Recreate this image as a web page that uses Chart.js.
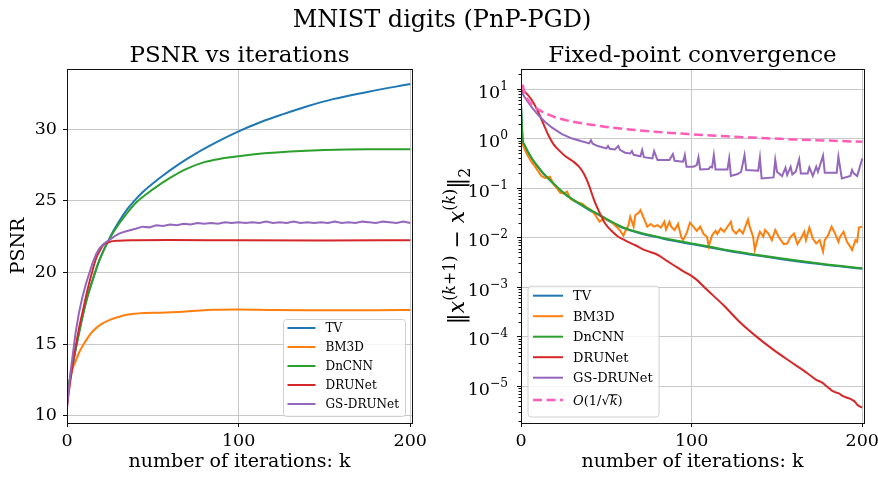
<!DOCTYPE html>
<html>
<head>
<meta charset="utf-8">
<title>MNIST digits (PnP-PGD)</title>
<script src="https://cdn.jsdelivr.net/npm/chart.js@4.4.0/dist/chart.umd.min.js"></script>
<style>
  html, body { margin: 0; padding: 0; background: #fff; }
  #page { position: relative; width: 878px; height: 482px; overflow: hidden; }
  #suptitle { position: absolute; left: 0; top: 2px; width: 884px; height: 34px; line-height: 34px;
              text-align: center; font-family: 'DejaVu Serif', serif; font-size: 24px; color: #000; }
  canvas { position: absolute; top: 0; }
</style>
</head>
<body>
<div id="page">
  <canvas id="psnr" width="440" height="482" style="left:0"></canvas>
  <canvas id="fixed" width="438" height="482" style="left:440px"></canvas>
  <div id="suptitle">MNIST digits (PnP-PGD)</div>
</div>
<script>
// ---- PSNR vs iterations ----
const tvIter = [0, 3, 7, 11, 15, 19, 25, 30, 35, 40, 44, 54, 65, 75, 88, 100, 113, 126, 140, 155, 175, 200];
const tvPsnr = [11.5, 13.4, 15.8, 17.9, 19.5, 20.9, 22.45, 23.5, 24.4, 25.1, 25.6, 26.6, 27.55, 28.3, 29.15, 29.85, 30.5, 31.05, 31.6, 32.1, 32.6, 33.15];

const bm3dIter = [0, 1, 3, 5, 7, 9, 11, 15, 20, 25, 30, 35, 45, 55, 65, 75, 85, 100, 120, 140, 160, 180, 200];
const bm3dPsnr = [10.8, 12.0, 13.2, 13.8, 14.4, 14.85, 15.25, 15.9, 16.4, 16.7, 16.9, 17.05, 17.17, 17.2, 17.25, 17.33, 17.4, 17.42, 17.38, 17.36, 17.37, 17.37, 17.38];

const dncnnIter = [0, 3, 7, 11, 15, 19, 25, 30, 35, 40, 50, 60, 70, 80, 90, 100, 115, 130, 150, 175, 200];
const dncnnPsnr = [11.5, 13.4, 15.8, 17.9, 19.5, 20.9, 22.4, 23.35, 24.15, 24.85, 25.8, 26.6, 27.25, 27.7, 27.95, 28.12, 28.32, 28.45, 28.55, 28.6, 28.6];

const drunetIter = [0, 1, 3, 5, 7, 9, 11, 13, 15, 17, 19, 21, 23, 25, 30, 40, 60, 100, 150, 200];
const drunetPsnr = [10.6, 11.6, 13.3, 14.8, 16.1, 17.2, 18.3, 19.3, 20.2, 21.0, 21.5, 21.9, 22.05, 22.15, 22.22, 22.25, 22.27, 22.25, 22.24, 22.25];

const gsIter = [0, 2, 5, 7, 9, 11, 13, 15, 17, 19, 21, 23, 25, 28, 31, 35, 40, 44, 48, 52, 56, 60, 64, 68, 72, 76, 80, 84, 88, 92, 96, 100,
  104, 108, 112, 116, 120, 124, 128, 132, 136, 140, 144, 148, 152, 156, 160, 164, 168, 172, 176, 180, 184, 188, 192, 196, 200];
const gsPsnr = [10.6, 13.0, 15.8, 17.2, 18.3, 19.2, 19.95, 20.7, 21.3, 21.7, 21.95, 22.15, 22.3, 22.55, 22.75, 22.9, 23.05, 23.2, 23.15, 23.3, 23.25, 23.35, 23.3, 23.4, 23.35, 23.45, 23.4, 23.45, 23.4, 23.5, 23.45, 23.5,
  23.45, 23.5, 23.45, 23.55, 23.45, 23.5, 23.45, 23.55, 23.45, 23.5, 23.45, 23.5, 23.45, 23.55, 23.45, 23.5, 23.45, 23.55, 23.5, 23.45, 23.55, 23.5, 23.45, 23.55, 23.45];

// ---- fixed-point residual ||x(k+1) - x(k)|| ----
const tvResIter = [0, 1, 2, 4, 6, 8, 10, 13, 17, 20, 25, 30, 35, 40, 45, 50, 60, 70, 80, 90, 100, 110, 125, 150, 175, 200];
const tvRes = [4.8, 0.94, 0.74, 0.54, 0.41, 0.325, 0.265, 0.197, 0.143, 0.113, 0.079, 0.059, 0.046, 0.036, 0.0295, 0.0232, 0.0155, 0.0121, 0.0101, 0.0085, 0.0074, 0.0064, 0.0051, 0.0038, 0.00292, 0.00234];

const dncnnResIter = [0, 1, 2, 4, 6, 8, 10, 13, 17, 20, 25, 30, 35, 40, 45, 50, 60, 70, 80, 90, 100, 110, 125, 150, 175, 200];
const dncnnRes = [5.0, 0.95, 0.75, 0.55, 0.42, 0.33, 0.27, 0.2, 0.145, 0.115, 0.08, 0.06, 0.047, 0.037, 0.03, 0.024, 0.016, 0.0125, 0.0104, 0.0088, 0.0076, 0.0066, 0.0053, 0.0039, 0.003, 0.0024];

const bm3dResIter = [0, 2, 4, 6, 8, 10, 12, 14, 16, 17, 19, 21, 23, 25, 27, 29, 31, 33, 36, 38, 41, 43, 44, 46, 48, 49, 52, 55, 58, 60,
  61, 63, 64, 66, 67, 69, 70, 72, 74, 76, 78, 80, 82, 84, 85, 87, 88, 90, 92, 94, 95, 97, 99, 101, 103, 105, 107, 109, 110, 112,
  114, 115, 117, 119, 121, 123, 124, 126, 128, 130, 133, 134, 136, 137, 139, 140, 142, 143, 145, 147, 149, 151, 153, 154, 156, 158, 160, 162,
  164, 166, 167, 169, 171, 173, 175, 177, 178, 180, 182, 184, 186, 187, 189, 191, 193, 194, 196, 197, 198, 200];
const bm3dRes = [0.95, 0.62, 0.45, 0.34, 0.28, 0.22, 0.175, 0.16, 0.165, 0.17, 0.12, 0.1, 0.08, 0.078, 0.085, 0.06, 0.056, 0.052, 0.048, 0.042, 0.036, 0.03, 0.027, 0.021, 0.023, 0.024, 0.022, 0.0177, 0.014, 0.0109,
  0.0131, 0.0179, 0.0264, 0.0166, 0.0285, 0.0318, 0.036, 0.0244, 0.0166, 0.0188, 0.0166, 0.0179, 0.016, 0.0209, 0.0146, 0.0209, 0.0166, 0.0142, 0.0188, 0.01, 0.0089, 0.0121, 0.02, 0.0166, 0.0137, 0.0166, 0.0118, 0.0104, 0.0067, 0.0112,
  0.0137, 0.0118, 0.0153, 0.0131, 0.0166, 0.0209, 0.0142, 0.0121, 0.0146, 0.0121, 0.0233, 0.0166, 0.0104, 0.0056, 0.0104, 0.0131, 0.0104, 0.0142, 0.0121, 0.0089, 0.0142, 0.0104, 0.0082, 0.0074, 0.0076, 0.0104, 0.0121, 0.0074,
  0.0096, 0.0131, 0.0089, 0.016, 0.0096, 0.0076, 0.0089, 0.0052, 0.0089, 0.0112, 0.0166, 0.0121, 0.0082, 0.0104, 0.0131, 0.0082, 0.0065, 0.0056, 0.0089, 0.0082, 0.016, 0.0166];

const drunetResIter = [0, 2, 4, 7, 10, 13, 16, 19, 22, 26, 30, 34, 37, 40, 43, 46, 49, 53, 57, 61, 67, 73, 80, 86, 90, 94, 99, 103, 109,
  119, 128, 138, 148, 158, 168, 173, 176, 178, 181, 183, 186, 189, 192, 194, 196, 197, 199, 200];
const drunetRes = [9.5, 8.9, 7.6, 5.5, 3.5, 2.02, 1.18, 0.77, 0.59, 0.44, 0.356, 0.27, 0.19, 0.11, 0.055, 0.032, 0.02, 0.0137, 0.0104, 0.0088, 0.007, 0.0055, 0.0045, 0.0033, 0.0027, 0.0022, 0.00176, 0.0014, 0.00088,
  0.00042, 0.0002, 0.0001, 5.4e-5, 3.1e-5, 1.8e-5, 1.34e-5, 1.2e-5, 1.07e-5, 8.8e-6, 7.8e-6, 7.2e-6, 6.2e-6, 5.7e-6, 5.3e-6, 4.7e-6, 4.2e-6, 3.8e-6, 3.7e-6];

const gsResIter = [0, 2, 6, 10, 14, 18, 24, 30, 35, 40, 41, 42, 45, 50, 51, 52, 55, 57, 58, 61, 64, 65, 66, 70, 71, 72, 77, 78, 80, 87, 89, 90,
  95, 96, 97, 101, 103, 104, 105, 110, 111, 112, 113, 114, 121, 122, 123, 127, 129, 131, 132, 139, 140, 141, 148, 149, 150, 153, 155, 156,
  158, 159, 161, 163, 164, 168, 169, 171, 173, 174, 177, 178, 185, 186, 188, 193, 194, 195, 197, 200];
const gsRes = [9.25, 7.0, 4.4, 3.0, 2.19, 1.68, 1.23, 1.0, 0.89, 0.8, 0.93, 0.79, 0.705, 0.632, 0.705, 0.62, 0.604, 0.705, 0.59, 0.517, 0.5, 0.56, 0.47, 0.44, 0.586, 0.42, 0.397, 0.559, 0.368, 0.368, 0.486, 0.356,
  0.34, 0.464, 0.27, 0.27, 0.292, 0.417, 0.238, 0.242, 0.27, 0.262, 0.464, 0.238, 0.238, 0.397, 0.175, 0.192, 0.214, 0.464, 0.231, 0.224, 0.41, 0.157, 0.164, 0.368, 0.214, 0.175, 0.258, 0.183,
  0.27, 0.189, 0.214, 0.379, 0.198, 0.198, 0.262, 0.175, 0.27, 0.214, 0.45, 0.204, 0.204, 0.43, 0.157, 0.175, 0.231, 0.198, 0.175, 0.397];

const rateIter = [1, 2, 3, 5, 7, 10, 15, 20, 30, 40, 50, 60, 80, 100, 120, 140, 160, 180, 200];
const rateRes = [12.2, 8.6, 7.0, 5.5, 4.6, 3.9, 3.15, 2.7, 2.2, 1.93, 1.72, 1.57, 1.36, 1.22, 1.11, 1.03, 0.96, 0.91, 0.86];

// axis ticks
const iterTicks = [0, 100, 200];
const psnrTicks = [10, 15, 20, 25, 30];
const decadeExps = [-5, -4, -3, -2, -1, 0, 1];

const COLORS = { tv: '#1f77b4', bm3d: '#ff7f0e', dncnn: '#2ca02c', drunet: '#d62728', gs: '#9467bd', rate: '#ff5cb8' };
const serif = "'DejaVu Serif', 'Liberation Serif', serif";

Chart.defaults.font.family = serif;
Chart.defaults.color = '#000';
Chart.defaults.animation = false;

function series(label, xs, ys, color, order, extra) {
  return Object.assign({
    label,
    data: xs.map((x, i) => ({ x, y: ys[i] })),
    borderColor: color,
    backgroundColor: color,
    borderWidth: 2,
    pointRadius: 0,
    fill: false,
    order
  }, extra || {});
}
const smooth = { cubicInterpolationMode: 'monotone' };

// text made of runs with their own size / slant / raise
function richRun(ctx, pieces, size, x, y, draw) {
  let cx = x;
  for (const p of pieces) {
    const fs = size * (p.s || 1);
    ctx.font = (p.it ? 'italic ' : '') + fs + 'px ' + serif;
    const w = ctx.measureText(p.t).width;
    if (draw) {
      ctx.fillText(p.t, cx, y + (p.dy || 0) * size);
      if (p.over) ctx.fillRect(cx - 1, y - p.over * size, w + 1, Math.max(1, size * 0.06));
    }
    cx += w;
  }
  return cx - x;
}

function drawLegend(chart, lg) {
  const { ctx, chartArea: a } = chart;
  const sets = chart.data.datasets;
  ctx.save();
  let maxW = 0;
  sets.forEach(d => {
    let w;
    if (d.richLabel) w = richRun(ctx, d.richLabel, lg.size, 0, 0, false);
    else { ctx.font = lg.size + 'px ' + serif; w = ctx.measureText(d.label).width; }
    maxW = Math.max(maxW, w);
  });
  const rows = sets.map((d, i) => lg.padTop + i * lg.rowH + (d.richLabel ? lg.richExtra : 0));
  const w = lg.textX + maxW + lg.padRight;
  const h = rows[rows.length - 1] + lg.padBottom;
  const bx = lg.corner === 'right' ? a.right - lg.inset - w : a.left + lg.inset;
  const by = a.bottom - lg.inset - h;

  ctx.beginPath();
  ctx.roundRect(bx + 0.5, by + 0.5, w, h, 3);
  ctx.fillStyle = 'rgba(255,255,255,0.8)';
  ctx.fill();
  ctx.strokeStyle = '#d0d0d0';
  ctx.lineWidth = 1;
  ctx.stroke();

  sets.forEach((d, i) => {
    const y = by + rows[i];
    ctx.beginPath();
    ctx.setLineDash(d.borderDash || []);
    ctx.strokeStyle = d.borderColor;
    ctx.lineWidth = d.borderWidth;
    ctx.moveTo(bx + lg.lineX0, y);
    ctx.lineTo(bx + lg.lineX0 + lg.lineLen, y);
    ctx.stroke();
    ctx.setLineDash([]);
    ctx.fillStyle = '#000';
    ctx.textAlign = 'left';
    if (d.richLabel) {
      ctx.textBaseline = 'alphabetic';
      richRun(ctx, d.richLabel, lg.size, bx + lg.textX, y + lg.size * 0.36, true);
    } else {
      ctx.textBaseline = 'middle';
      ctx.font = lg.size + 'px ' + serif;
      ctx.fillText(d.label, bx + lg.textX, y + 1);
    }
  });
  ctx.restore();
}

// frame, panel title, legend, log tick labels, rotated math label
const panel = {
  id: 'panel',
  afterDatasetsDraw(chart) {
    const { ctx, chartArea: a } = chart;
    ctx.save();
    ctx.strokeStyle = '#111';
    ctx.lineWidth = 1;
    ctx.strokeRect(a.left + 0.5, a.top + 0.5, a.right - a.left, a.bottom - a.top);
    ctx.restore();
  },
  afterDraw(chart, args, o) {
    const { ctx, chartArea: a } = chart;
    ctx.save();
    ctx.fillStyle = '#000';
    ctx.font = o.titleSize + 'px ' + serif;
    ctx.textAlign = 'center';
    ctx.textBaseline = 'alphabetic';
    ctx.fillText(o.title, (a.left + a.right) / 2, o.titleBaseline);

    if (o.logLabels) {
      const s = chart.scales.y;
      // minor ticks between decades
      ctx.strokeStyle = '#111';
      ctx.lineWidth = 1;
      const e0 = Math.floor(Math.log10(s.min)), e1 = Math.ceil(Math.log10(s.max));
      for (let e = e0; e <= e1; e++) {
        for (let m = 2; m <= 9; m++) {
          const v = m * Math.pow(10, e);
          if (v < s.min || v > s.max) continue;
          const py = Math.round(s.getPixelForValue(v)) + 0.5;
          ctx.beginPath();
          ctx.moveTo(a.left - 2.5, py);
          ctx.lineTo(a.left, py);
          ctx.stroke();
        }
      }
      // 10^n labels
      const L = o.logLabels;
      ctx.textAlign = 'left';
      s.ticks.forEach(t => {
        const e = Math.round(Math.log10(t.value));
        const py = s.getPixelForValue(t.value);
        const pieces = [{ t: '10' }, { t: e < 0 ? '\u2212' + (-e) : String(e), s: 0.7, dy: -0.45 }];
        const w = richRun(ctx, pieces, L.size, 0, 0, false);
        richRun(ctx, pieces, L.size, L.right - w, py + L.baseOff, true);
      });
    }

    if (o.richTitle) {
      const R = o.richTitle;
      const w = richRun(ctx, R.pieces, R.size, 0, 0, false);
      ctx.translate(R.x, (a.top + a.bottom) / 2);
      ctx.rotate(-Math.PI / 2);
      ctx.textAlign = 'left';
      ctx.textBaseline = 'alphabetic';
      richRun(ctx, R.pieces, R.size, -w / 2, 0, true);
      ctx.setTransform(1, 0, 0, 1, 0, 0);
    }
    ctx.restore();
    if (o.legend) drawLegend(chart, o.legend);
  }
};

const gridOpts = { color: '#c8c8c8', lineWidth: 1, tickColor: '#111', tickLength: 4, drawTicks: true };
const tickFont = { size: 17.5 };

function iterAxis() {
  return {
    type: 'linear', min: 0, max: 201,
    afterBuildTicks: s => { s.ticks = iterTicks.map(v => ({ value: v })); },
    afterFit: s => { s.height = 59; s.paddingLeft = 0; s.paddingRight = 0; },
    grid: gridOpts,
    border: { display: false },
    ticks: { font: tickFont, padding: 4, maxRotation: 0, autoSkip: false },
    title: { display: true, text: 'number of iterations: k', font: { size: 19 }, padding: { top: 0, bottom: 9 } }
  };
}

new Chart(document.getElementById('psnr'), {
  type: 'line',
  data: {
    datasets: [
      series('TV', tvIter, tvPsnr, COLORS.tv, 6, smooth),
      series('BM3D', bm3dIter, bm3dPsnr, COLORS.bm3d, 5, smooth),
      series('DnCNN', dncnnIter, dncnnPsnr, COLORS.dncnn, 4, smooth),
      series('DRUNet', drunetIter, drunetPsnr, COLORS.drunet, 3, smooth),
      series('GS-DRUNet', gsIter, gsPsnr, COLORS.gs, 2)
    ]
  },
  options: {
    responsive: false,
    events: [],
    layout: { padding: { top: 69, right: 28, left: 0, bottom: 0 } },
    plugins: {
      legend: { display: false },
      tooltip: { enabled: false },
      panel: {
        title: 'PSNR vs iterations', titleSize: 23, titleBaseline: 61.5,
        legend: { corner: 'right', inset: 7, size: 12, padTop: 9, rowH: 19, richExtra: 0, padBottom: 12,
                  lineX0: 4.5, lineLen: 28, textX: 42.5, padRight: 6 }
      }
    },
    scales: {
      x: iterAxis(),
      y: {
        min: 9.5, max: 34.2,
        afterBuildTicks: s => { s.ticks = psnrTicks.map(v => ({ value: v })); },
        afterFit: s => { s.width = 67; },
        grid: gridOpts,
        border: { display: false },
        ticks: { font: tickFont, padding: 6 },
        title: { display: true, text: 'PSNR', font: { size: 19 }, padding: { top: 8, bottom: 0 } }
      }
    }
  },
  plugins: [panel]
});

const yLabelPieces = [
  { t: '\u2016' }, { t: 'x', it: 1 },
  { t: '(', s: 0.72, dy: -0.42 }, { t: 'k', s: 0.72, dy: -0.42, it: 1 }, { t: '+1)', s: 0.72, dy: -0.42 },
  { t: ' \u2212 ' }, { t: 'x', it: 1 },
  { t: '(', s: 0.72, dy: -0.42 }, { t: 'k', s: 0.72, dy: -0.42, it: 1 }, { t: ')', s: 0.72, dy: -0.42 },
  { t: '\u2016' }, { t: '2', s: 0.72, dy: 0.25 }
];
const rateLabel = [{ t: 'O', it: 1 }, { t: '(1/' }, { t: '\u221A' }, { t: 'k', it: 1, over: 0.8 }, { t: ')' }];

new Chart(document.getElementById('fixed'), {
  type: 'line',
  data: {
    datasets: [
      series('TV', tvResIter, tvRes, COLORS.tv, 6, smooth),
      series('BM3D', bm3dResIter, bm3dRes, COLORS.bm3d, 5),
      series('DnCNN', dncnnResIter, dncnnRes, COLORS.dncnn, 4, smooth),
      series('DRUNet', drunetResIter, drunetRes, COLORS.drunet, 3, smooth),
      series('GS-DRUNet', gsResIter, gsRes, COLORS.gs, 2),
      series('O(1/\u221Ak)', rateIter, rateRes, COLORS.rate, 1,
             { borderWidth: 2.5, borderDash: [9, 4.5], cubicInterpolationMode: 'monotone', richLabel: rateLabel })
    ]
  },
  options: {
    responsive: false,
    events: [],
    layout: { padding: { top: 69, right: 14, left: 0, bottom: 0 } },
    plugins: {
      legend: { display: false },
      tooltip: { enabled: false },
      panel: {
        title: 'Fixed-point convergence', titleSize: 23, titleBaseline: 61.5,
        logLabels: { size: 17.5, right: 68, baseOff: 8.5 },
        richTitle: { pieces: yLabelPieces, size: 22, x: 24 },
        legend: { corner: 'left', inset: 6.5, size: 13, padTop: 10, rowH: 20.5, richExtra: 1.8, padBottom: 16.5,
                  lineX0: 5.5, lineLen: 30, textX: 45.5, padRight: 6 }
      }
    },
    scales: {
      x: iterAxis(),
      y: {
        type: 'logarithmic', min: 1.8e-6, max: 25.4,
        afterBuildTicks: s => { s.ticks = decadeExps.map(e => ({ value: Math.pow(10, e), major: true })); },
        afterFit: s => { s.width = 81; },
        grid: gridOpts,
        border: { display: false },
        ticks: { display: false }
      }
    }
  },
  plugins: [panel]
});
</script>
</body>
</html>
